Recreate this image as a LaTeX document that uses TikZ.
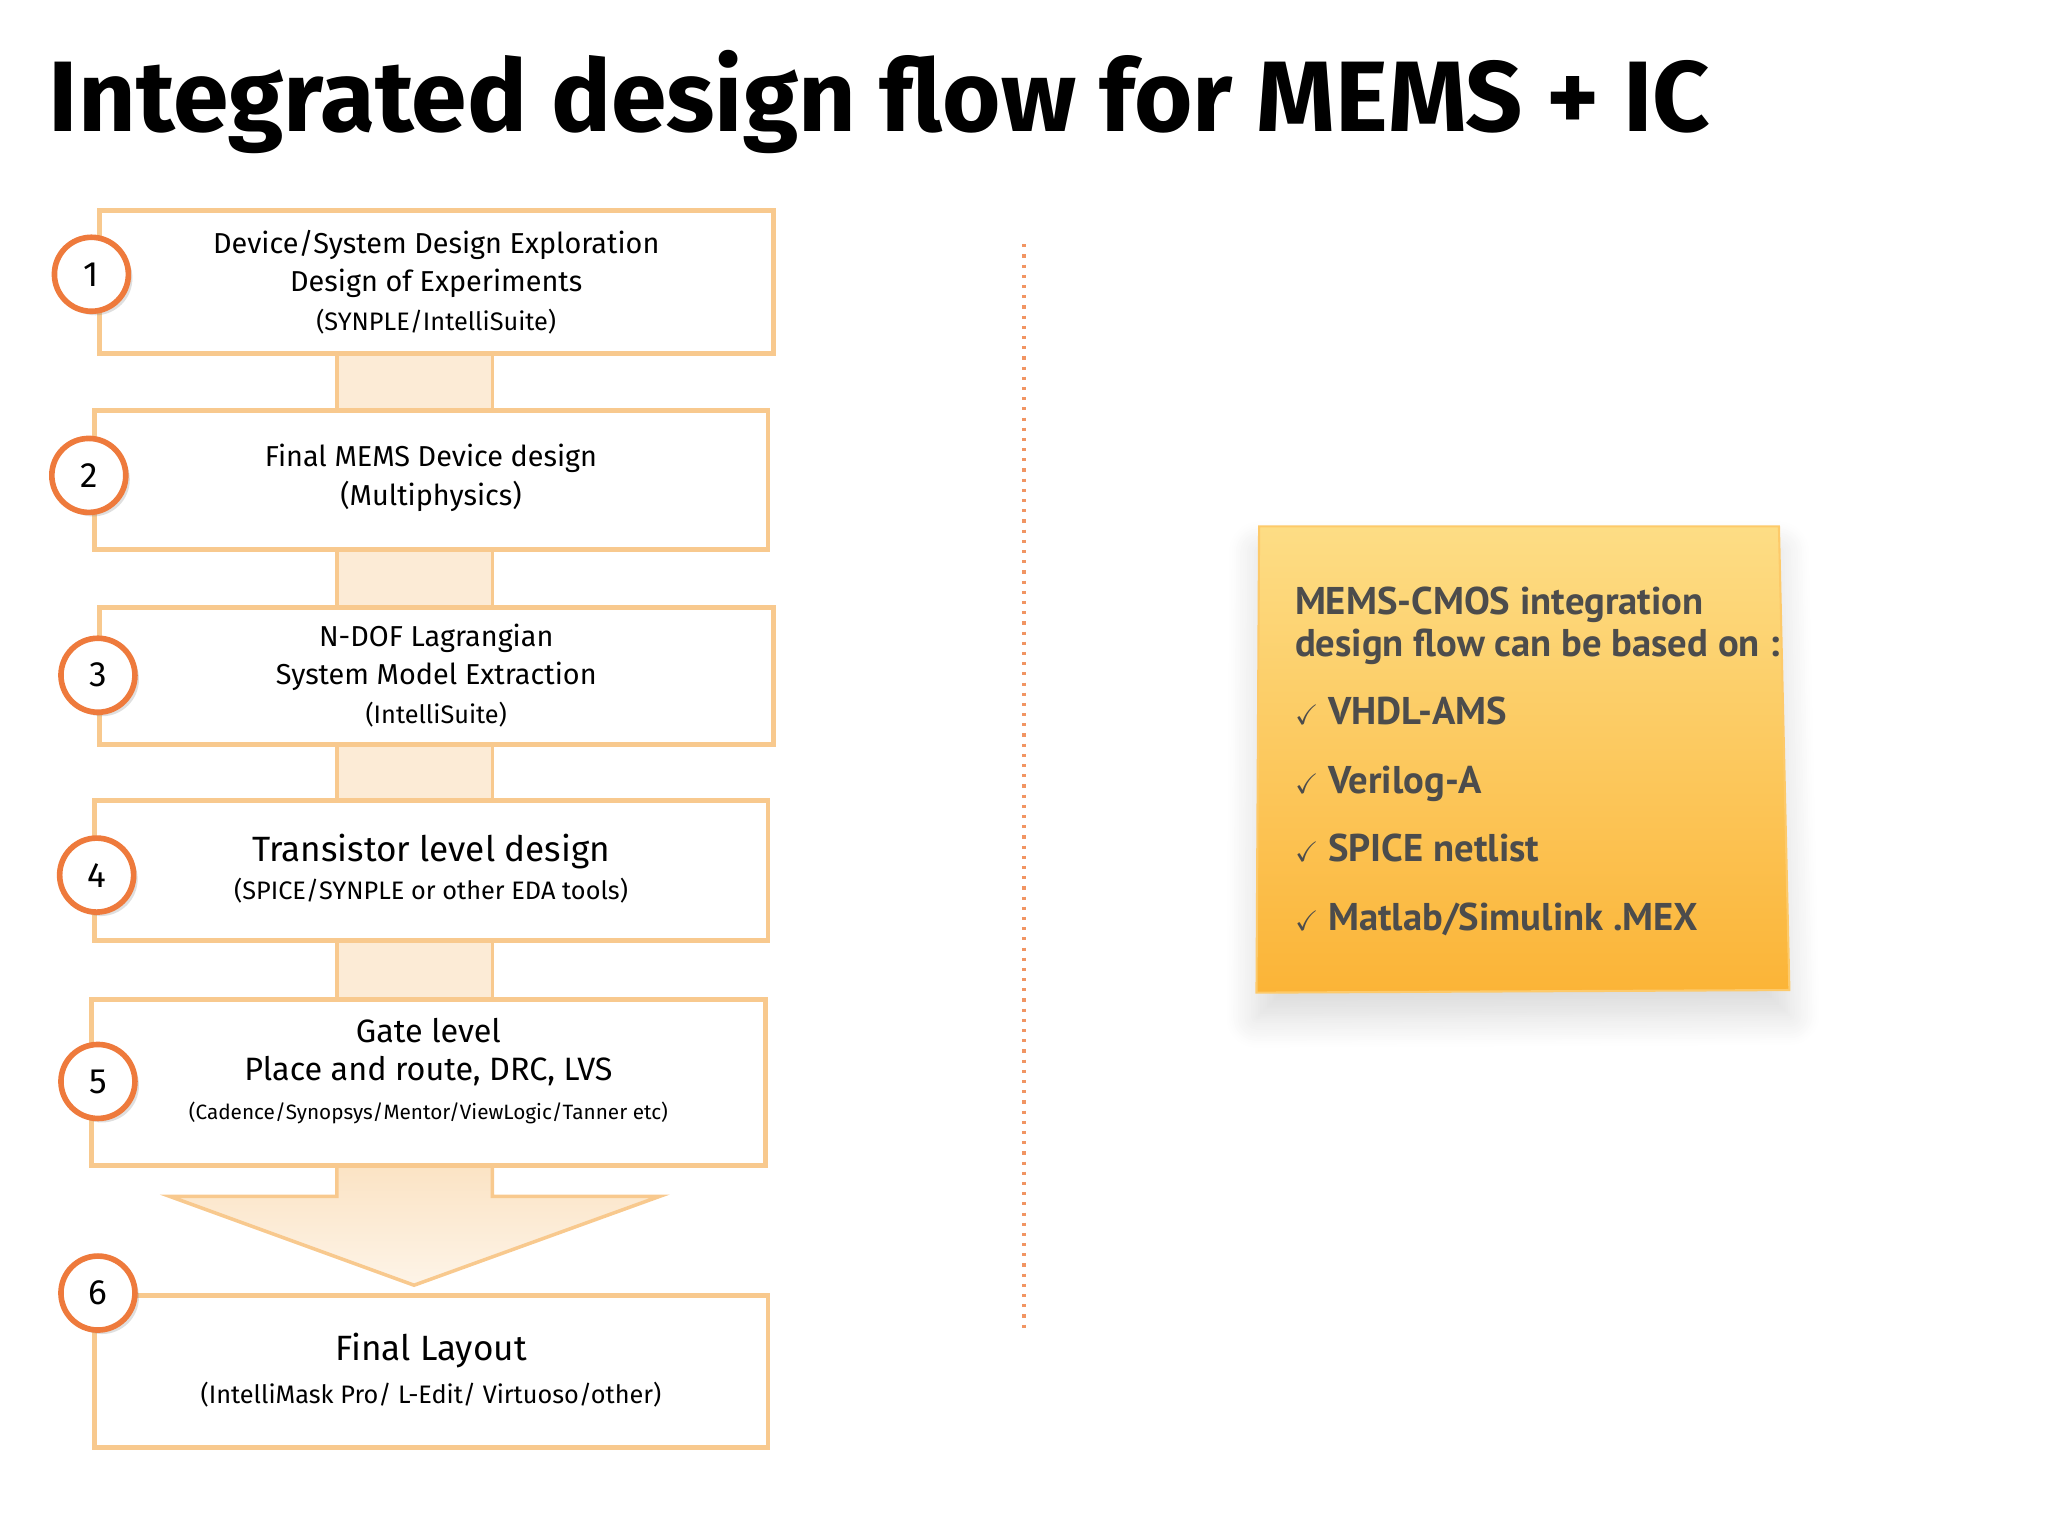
\documentclass[tikz,border=0pt]{standalone}
\usepackage{amssymb}
\usepackage{fontspec}
\setmainfont{Fira Sans}
\newfontfamily\notefont{PT Sans}
\usetikzlibrary{shadows,shadows.blur}
\definecolor{bord}{HTML}{F8C98E}
\definecolor{circ}{HTML}{EE7A3C}
\definecolor{band}{HTML}{FBE3C4}
\definecolor{notetop}{HTML}{FDDD85}
\definecolor{notebot}{HTML}{FBB437}
\begin{document}
\begin{tikzpicture}[x=0.013061cm,y=-0.013061cm,
  stepbox/.style={draw=bord,line width=1.4pt,fill=white},
  num/.style={circle,draw=circ,line width=1.6pt,fill=white,minimum size=7.4mm,inner sep=0pt,font=\fontsize{10}{12}\selectfont,drop shadow={opacity=0.25,shadow xshift=0.4mm,shadow yshift=-0.4mm}},
  txt/.style={align=center,font=\fontsize{8.2}{11}\selectfont}]
\useasboundingbox (0,0) rectangle (1568,1176);
\node[anchor=west,font=\bfseries\fontsize{28.5}{34}\selectfont] (title) at (28,78) {Integrated design flow for MEMS + IC};
% bands
\foreach \a/\b in {271/314,421/465,570/613,720/765}{
  \fill[band!70] (258,\a) rectangle (377,\b);
  \draw[bord,line width=1pt] (258,\a) -- (258,\b) (377,\a) -- (377,\b);}
\path[top color=band,bottom color=band!40,draw=bord,line width=1pt] (258,892) -- (258,916) -- (130,916) -- (317,984) -- (505,916) -- (377,916) -- (377,892);
% boxes
\draw[stepbox] (76,161) rectangle (592,271);
\node[txt] (t1) at (334,216) {Device/System Design Exploration\\Design of Experiments\\{\fontsize{7.2}{10}\selectfont (SYNPLE/IntelliSuite)}};
\draw[stepbox] (72,314) rectangle (588,421);
\node[txt] (t2) at (330,366) {Final MEMS Device design\\(Multiphysics)};
\draw[stepbox] (76,465) rectangle (592,570);
\node[txt] (t3) at (334,517) {N-DOF Lagrangian\\System Model Extraction\\{\fontsize{7.2}{10}\selectfont (IntelliSuite)}};
\draw[stepbox] (72,613) rectangle (588,720);
\node[txt] (t4) at (330,665) {{\fontsize{10}{13}\selectfont Transistor level design}\\{\fontsize{7.2}{10}\selectfont (SPICE/SYNPLE or other EDA tools)}};
\draw[stepbox] (70,765) rectangle (586,892);
\node[txt] (t5) at (328,820) {{\fontsize{9.2}{13}\selectfont Gate level}\\{\fontsize{9.2}{13}\selectfont Place and route, DRC, LVS}\\{\fontsize{5.9}{9}\selectfont (Cadence/Synopsys/Mentor/ViewLogic/Tanner etc)}};
\draw[stepbox] (72,992) rectangle (588,1108);
\node[txt] (t6) at (330,1049) {{\fontsize{10}{13}\selectfont Final Layout}\\[0.5mm]{\fontsize{7.2}{10}\selectfont (IntelliMask Pro/ L-Edit/ Virtuoso/other)}};
% circles
\node[num] (c1) at (70,210) {1};
\node[num] (c2) at (68,364) {2};
\node[num] (c3) at (75,517) {3};
\node[num] (c4) at (74,670) {4};
\node[num] (c5) at (75,828) {5};
\node[num] (c6) at (75,990) {6};
% divider
\draw[circ!80,line width=0.9pt,dotted] (784,187) -- (784,1018);
% note
\fill[black!5,blur shadow={shadow blur steps=14,shadow xshift=0mm,shadow yshift=-2.5mm,shadow opacity=15,shadow blur radius=3mm}] (964,403) -- (1362,403) -- (1370,758) -- (962,760) -- cycle;
\path[top color=notetop,bottom color=notebot,draw=notetop!80!orange,line width=0.6pt] (964,403) -- (1362,403) -- (1370,758) -- (962,760) -- cycle;
\node[anchor=north west,align=left,text=black!70,font=\notefont\bfseries\fontsize{11}{11.8}\selectfont] (note) at (982,440)
 {MEMS-CMOS integration\\design flow can be based on :\\[2.7mm]
 {\fontsize{8}{9}\selectfont$\checkmark$} VHDL-AMS\\[2.7mm]
 {\fontsize{8}{9}\selectfont$\checkmark$} Verilog-A\\[2.7mm]
 {\fontsize{8}{9}\selectfont$\checkmark$} SPICE netlist\\[2.7mm]
 {\fontsize{8}{9}\selectfont$\checkmark$} Matlab/Simulink .MEX};
\end{tikzpicture}
\end{document}
